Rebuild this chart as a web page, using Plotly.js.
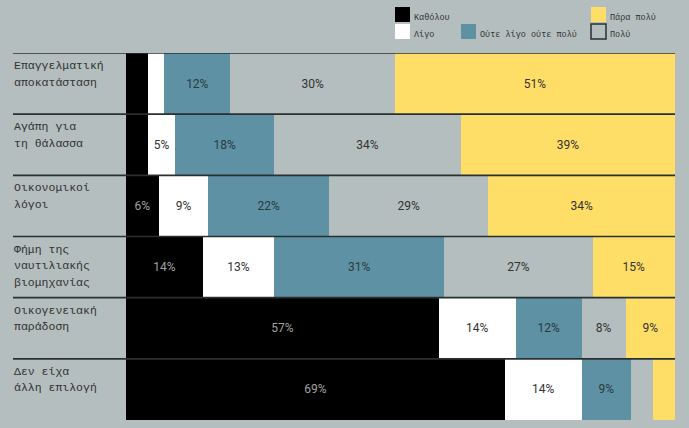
<!DOCTYPE html>
<html>
<head>
<meta charset="utf-8">
<script src="https://cdn.plot.ly/plotly-3.0.1.min.js"></script>
<style>
  html, body { margin: 0; padding: 0; background: #b4bebe; }
  #graph { width: 689px; height: 428px; }
</style>
</head>
<body>
<div id="graph"></div>
<script>
/* ----- Data ------- */
var reasons = [
    'Επαγγελματική<br>αποκατάσταση',
    'Αγάπη για<br>τη θάλασσα',
    'Οικονομικοί<br>λόγοι',
    'Φήμη της<br>ναυτιλιακής<br>βιομηχανίας',
    'Οικογενειακή<br>παράδοση',
    'Δεν είχα<br>άλλη επιλογή'
];
var answers = ['Καθόλου', 'Λίγο', 'Ούτε λίγο ούτε πολύ', 'Πολύ', 'Πάρα πολύ'];

var notAtAll = [4, 4, 6, 14, 57, 69];
var little   = [3, 5, 9, 13, 14, 14];
var neutral  = [12, 18, 22, 31, 12, 9];
var much     = [30, 34, 29, 27, 8, 4];
var veryMuch = [51, 39, 34, 15, 9, 4];

/* ------ Styling ------- */
var BG = '#b4bebe';
var colors = ['#000000', '#ffffff', '#5e91a4', BG, '#fede66'];
var textColors = ['#a0a0a0', '#333333', '#2b3a40', '#333333', '#333333'];
var seriesValues = [notAtAll, little, neutral, much, veryMuch];
var labelFont = 'Liberation Mono, DejaVu Sans Mono, monospace';

// plot area in pixels
var W = 689, H = 428;
var margin = { l: 126, r: 14, t: 53, b: 8, autoexpand: false };
var plotW = W - margin.l - margin.r;
var plotH = H - margin.t - margin.b;
function px(x) { return (x - margin.l) / plotW; }
function py(y) { return (H - margin.b - y) / plotH; }

var data = seriesValues.map(function (vals, i) {
    return {
        type: 'bar',
        orientation: 'h',
        name: answers[i],
        y: reasons,
        x: vals,
        text: vals.map(function (v) { return v >= 5 ? v + '%' : ''; }),
        textposition: 'inside',
        insidetextanchor: 'middle',
        textangle: 0,
        constraintext: 'none',
        textfont: { family: 'Roboto, sans-serif', size: 12, color: textColors[i] },
        insidetextfont: { family: 'Roboto, sans-serif', size: 12, color: textColors[i] },
        marker: { color: colors[i], line: { width: 0 } },
        hoverinfo: 'skip'
    };
});

var shapes = [];
var annotations = [];

// row separator lines and row labels (one annotation per text line)
reasons.forEach(function (r, i) {
    shapes.push({
        type: 'line', xref: 'paper', yref: 'y',
        x0: px(13), x1: 1, y0: i - 0.5, y1: i - 0.5,
        line: { color: '#2a3030', width: 1.6 },
        layer: 'above'
    });
    r.split('<br>').forEach(function (line, k) {
        annotations.push({
            xref: 'paper', yref: 'y',
            x: px(12), y: i - 0.5, yshift: -4 - k * 16.5,
            xanchor: 'left', yanchor: 'top', align: 'left',
            text: line, showarrow: false,
            font: { family: labelFont, size: 11.5, color: '#333333' }
        });
    });
});

// custom legend: [answer index, square left px, square top px]
var legendPos = [[0, 395, 7], [1, 395, 24], [2, 461, 24], [4, 591, 7], [3, 591, 24]];
legendPos.forEach(function (p) {
    var i = p[0], lx = p[1], ly = p[2];
    shapes.push({
        type: 'rect', xref: 'paper', yref: 'paper',
        x0: px(lx), x1: px(lx + 15), y0: py(ly + 15), y1: py(ly),
        fillcolor: colors[i],
        line: { color: i === 3 ? '#2a3030' : colors[i], width: i === 3 ? 1.5 : 0 }
    });
    annotations.push({
        xref: 'paper', yref: 'paper',
        x: px(lx + 17), y: py(ly + 11),
        xanchor: 'left', yanchor: 'middle',
        text: answers[i], showarrow: false,
        font: { family: labelFont, size: 8.5, color: '#333333' }
    });
});

var layout = {
    width: W,
    height: H,
    barmode: 'stack',
    bargap: 0,
    showlegend: false,
    paper_bgcolor: BG,
    plot_bgcolor: BG,
    margin: margin,
    xaxis: {
        range: [0, 100], autorange: false,
        showgrid: false, zeroline: false, showticklabels: false, fixedrange: true
    },
    yaxis: {
        range: [reasons.length - 0.5, -0.5], autorange: false,
        showgrid: false, zeroline: false, showticklabels: false, ticks: '', fixedrange: true
    },
    shapes: shapes,
    annotations: annotations
};

Plotly.newPlot('graph', data, layout, { displayModeBar: false, staticPlot: true });
</script>
</body>
</html>
